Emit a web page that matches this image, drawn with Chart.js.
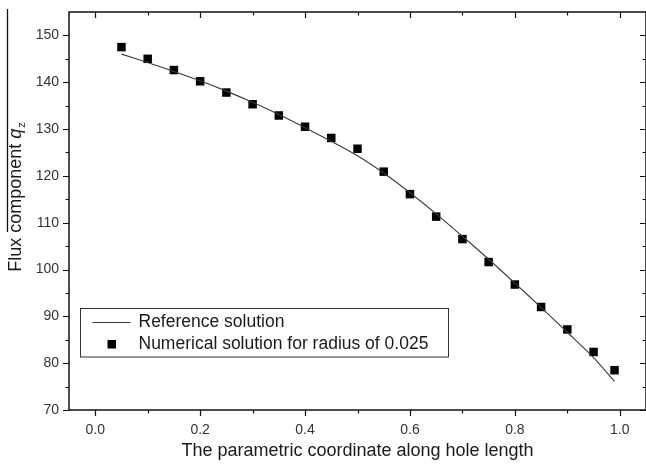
<!DOCTYPE html>
<html>
<head>
<meta charset="utf-8">
<script src="https://cdn.jsdelivr.net/npm/chart.js@4/dist/chart.umd.min.js"></script>
<style>
  html, body { margin: 0; padding: 0; background: #fff; }
  #wrap { width: 646px; height: 464px; }
</style>
</head>
<body>
<div id="wrap"><canvas id="fluxChart" width="646" height="464"></canvas></div>
<script>
// positions along the hole (parametric coordinate)
const coordPts = [0.05, 0.10, 0.15, 0.20, 0.25, 0.30, 0.35, 0.40, 0.45, 0.50,
                  0.55, 0.60, 0.65, 0.70, 0.75, 0.80, 0.85, 0.90, 0.95, 0.99];
// reference solution q_z
const refFlux = [146.0, 144.2, 142.3, 140.3, 138.1, 135.7, 133.1, 130.3, 127.4, 124.3,
                 120.6, 116.4, 111.9, 107.1, 102.2, 97.1, 91.9, 86.6, 81.2, 76.1];
// numerical solution, radius 0.025
const numFlux = [147.5, 145.0, 142.6, 140.2, 137.8, 135.3, 132.9, 130.5, 128.1, 125.8,
                 120.9, 116.1, 111.3, 106.5, 101.6, 96.8, 92.0, 87.2, 82.4, 78.5];

const xTicks = [0.0, 0.2, 0.4, 0.6, 0.8, 1.0];
const xMinor = [0.1, 0.3, 0.5, 0.7, 0.9];
const yTicks = [70, 80, 90, 100, 110, 120, 130, 140, 150];
const yMinor = [75, 85, 95, 105, 115, 125, 135, 145];

const refLabel = 'Reference solution';
const numLabel = 'Numerical solution for radius of 0.025';

const FONT = '"Liberation Sans", Arial, sans-serif';

// box, mirrored ticks, y title and legend
const framePlugin = {
  id: 'frame',
  afterDraw(chart) {
    const ctx = chart.ctx;
    const area = chart.chartArea;
    const xs = chart.scales.x, ys = chart.scales.y;
    ctx.save();
    ctx.strokeStyle = '#111';
    ctx.lineWidth = 1.5;
    ctx.strokeRect(area.left, area.top, area.right - area.left, area.bottom - area.top);

    ctx.lineWidth = 1.2;
    ctx.beginPath();
    const tickX = (v, len) => {
      const px = Math.round(xs.getPixelForValue(v)) + 0.5;
      ctx.moveTo(px, area.bottom); ctx.lineTo(px, area.bottom + len);
      ctx.moveTo(px, area.top); ctx.lineTo(px, area.top + len);
    };
    const tickY = (v, len) => {
      const py = Math.round(ys.getPixelForValue(v)) + 0.5;
      ctx.moveTo(area.left, py); ctx.lineTo(area.left - len, py);
      ctx.moveTo(area.right, py); ctx.lineTo(area.right - len, py);
    };
    xTicks.forEach(v => tickX(v, 6));
    xMinor.forEach(v => tickX(v, 3.5));
    yTicks.forEach(v => tickY(v, 6));
    yMinor.forEach(v => tickY(v, 3.5));
    ctx.stroke();

    // thin rule at the far left
    ctx.lineWidth = 1.3;
    ctx.beginPath();
    ctx.moveTo(7.5, 9); ctx.lineTo(7.5, 232);
    ctx.stroke();

    // y axis title: Flux component q_z
    ctx.fillStyle = '#1a1a1a';
    ctx.textBaseline = 'alphabetic';
    ctx.textAlign = 'left';
    const partA = 'Flux component ';
    ctx.font = '18px ' + FONT;
    const wA = ctx.measureText(partA).width;
    ctx.font = 'italic 18px ' + FONT;
    const wQ = ctx.measureText('q').width;
    ctx.font = '11px ' + FONT;
    const wZ = ctx.measureText('z').width;
    const total = wA + wQ + wZ + 1;
    ctx.translate(21, 197);
    ctx.rotate(-Math.PI / 2);
    let x0 = -total / 2;
    ctx.font = '18px ' + FONT;
    ctx.fillText(partA, x0, 0);
    ctx.font = 'italic 18px ' + FONT;
    ctx.fillText('q', x0 + wA, 0);
    ctx.font = '11px ' + FONT;
    ctx.fillText('z', x0 + wA + wQ + 1, 4);
    ctx.restore();

    // legend box inside the plot
    ctx.save();
    const lx = area.left + 11.5, ly = 308.5, lw = 368, lh = 48.5;
    ctx.strokeStyle = '#333';
    ctx.lineWidth = 1;
    ctx.fillStyle = '#fff';
    ctx.fillRect(lx, ly, lw, lh);
    ctx.strokeRect(lx, ly, lw, lh);
    const ref = chart.data.datasets[0], num = chart.data.datasets[1];
    ctx.strokeStyle = ref.borderColor;
    ctx.lineWidth = 1.1;
    ctx.beginPath();
    ctx.moveTo(lx + 12, 322.5); ctx.lineTo(lx + 50, 322.5);
    ctx.stroke();
    ctx.fillStyle = '#000';
    ctx.fillRect(lx + 27, 340, 8.5, 8.5);
    ctx.fillStyle = '#1a1a1a';
    ctx.font = '17.5px ' + FONT;
    ctx.textBaseline = 'middle';
    ctx.fillText(ref.label, lx + 58, 322);
    ctx.fillText(num.label, lx + 58, 344.5);
    ctx.restore();
  }
};

const ctx = document.getElementById('fluxChart').getContext('2d');
const fluxChart = new Chart(ctx, {
  type: 'scatter',
  data: {
    datasets: [
      {
        label: refLabel,
        data: coordPts.map((x, i) => ({ x: x, y: refFlux[i] })),
        showLine: true,
        borderColor: '#3a3a3a',
        borderWidth: 1.1,
        pointRadius: 0,
        tension: 0.3,
        fill: false
      },
      {
        label: numLabel,
        data: coordPts.map((x, i) => ({ x: x, y: numFlux[i] })),
        showLine: false,
        pointStyle: 'rect',
        pointRadius: 6,
        backgroundColor: '#000',
        borderColor: '#000',
        borderWidth: 0
      }
    ]
  },
  options: {
    responsive: false,
    animation: false,
    layout: { autoPadding: false, padding: { top: 12, right: 0, left: 0, bottom: 0 } },
    plugins: {
      legend: { display: false },
      tooltip: { enabled: false }
    },
    scales: {
      x: {
        type: 'linear',
        min: -0.05,
        max: 1.05,
        afterBuildTicks: s => { s.ticks = xTicks.map(v => ({ value: v })); },
        afterFit: s => { s.height = 54; s.paddingLeft = 0; s.paddingRight = 0; },
        grid: { display: false, drawTicks: false },
        border: { display: false },
        ticks: {
          padding: 12,
          color: '#333',
          font: { family: FONT, size: 14 },
          callback: v => v.toFixed(1)
        },
        title: {
          display: true,
          text: 'The parametric coordinate along hole length',
          color: '#1a1a1a',
          font: { family: FONT, size: 18 },
          padding: { top: 0, bottom: 2 }
        }
      },
      y: {
        type: 'linear',
        min: 70,
        max: 155,
        afterBuildTicks: s => { s.ticks = yTicks.map(v => ({ value: v })); },
        afterFit: s => { s.width = 69; s.paddingTop = 0; s.paddingBottom = 0; },
        grid: { display: false, drawTicks: false },
        border: { display: false },
        ticks: {
          padding: 10,
          color: '#333',
          font: { family: FONT, size: 14 }
        }
      }
    }
  },
  plugins: [framePlugin]
});
</script>
</body>
</html>
